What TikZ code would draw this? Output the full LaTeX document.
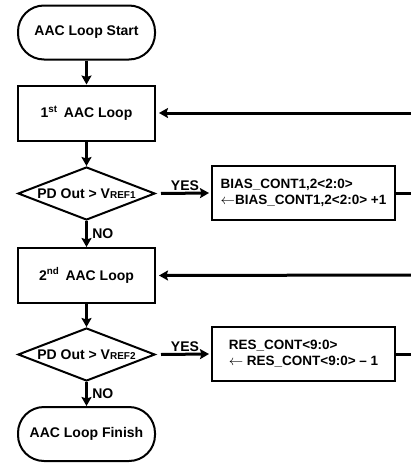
\documentclass[tikz,border=0pt]{standalone}
\usepackage{fontspec}
\setmainfont{Liberation Sans}
\usetikzlibrary{arrows.meta, shapes.geometric}
\tikzset{
    flow/.style={
        x=1pt, y=-1pt,
        font=\fontsize{14}{16}\selectfont\bfseries,
        >={Stealth[length=9pt, width=10pt, inset=1.5pt]},
        terminal/.style={draw, line width=2pt, rectangle, rounded corners=26pt, minimum width=137pt, minimum height=54pt, inner sep=0pt},
        loopbox/.style={draw, line width=2pt, rectangle, minimum width=137pt, minimum height=55pt, inner sep=0pt},
        decision/.style={draw, line width=2pt, diamond, shape aspect=2.6, minimum width=137pt, minimum height=53pt, inner sep=0pt},
        update/.style={draw, line width=2pt, rectangle, minimum width=183pt, minimum height=54pt, align=left, font=\fontsize{13.5}{16}\selectfont\bfseries},
        arrow/.style={line width=3pt, ->},
        wire/.style={line width=3pt}
    }
}
\newcommand{\vref}[1]{V{\fontsize{10}{10}\selectfont REF#1}}

\begin{document}
\begin{tikzpicture}[flow]
        \useasboundingbox (0,0) rectangle (411,463);

        % Main column
        \node[terminal] (start) at (86.5, 32.5) {AAC Loop Start};
        \node[loopbox] (loop1) at (86.5, 113) {1\textsuperscript{st} \,AAC Loop};
        \node[decision] (dec1) at (86.5, 193.5) {PD Out > \vref{1}};
        \node[loopbox] (loop2) at (86.5, 275.5) {2\textsuperscript{nd} \,AAC Loop};
        \node[decision] (dec2) at (86.5, 354.5) {PD Out > \vref{2}};
        \node[terminal] (finish) at (86.5, 434) {AAC Loop Finish};

        % Update boxes
        \node[update] (bias) at (303.5, 193) {BIAS\_CONT1,2<2:0>\\$\leftarrow$BIAS\_CONT1,2<2:0> +1};
        \node[update] (res) at (303.5, 354) {RES\_CONT<9:0>\\$\leftarrow$ RES\_CONT<9:0> -- 1};

        % Feedback ends at the right edge
        \coordinate (back1) at (411, 113);
        \coordinate (out1) at (411, 193);
        \coordinate (back2) at (411, 275);
        \coordinate (out2) at (411, 354);

        % Downward flow
        \draw[arrow] (start) -- (loop1);
        \draw[arrow] (loop1) -- (dec1);
        \draw[arrow] (dec1) -- node[right, xshift=1pt] {NO} (loop2);
        \draw[arrow] (loop2) -- (dec2);
        \draw[arrow] (dec2) -- node[right, xshift=1pt] {NO} (finish);

        % YES branches
        \draw[arrow] ([xshift=5pt]dec1.east) -- node[above, yshift=-2pt] {YES} ([xshift=-2pt]bias.west);
        \draw[arrow] ([xshift=5pt]dec2.east) -- node[above, yshift=-2pt] {YES} ([xshift=-2pt]res.west);

        % Loops back
        \draw[wire] (bias.east) -- (out1);
        \draw[arrow] (back1) -- ([xshift=3pt]loop1.east);
        \draw[wire] (res.east) -- (out2);
        \draw[arrow] (back2) -- ([xshift=3pt]loop2.east);

    \end{tikzpicture}
\end{document}
